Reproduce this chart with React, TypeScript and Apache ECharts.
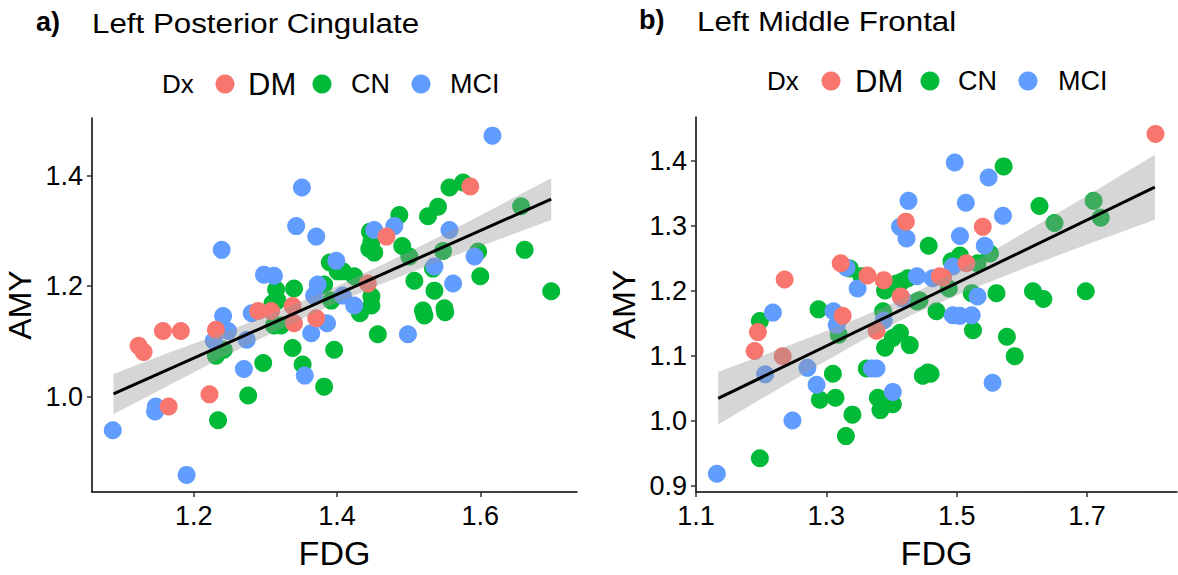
import React, { useEffect, useRef } from "react";
import * as echarts from "echarts";

const FONT = "'Liberation Sans', Arial, Helvetica, sans-serif";
const C_DM = "#F8766D";
const C_CN = "#00BA38";
const C_MCI = "#619CFF";

// ---------- Panel a: Left Posterior Cingulate ----------
const aDM = [
  [1.123, 1.092], [1.130, 1.081], [1.157, 1.119], [1.182, 1.119], [1.231, 1.121],
  [1.165, 0.982], [1.222, 1.004], [1.290, 1.155], [1.308, 1.155], [1.338, 1.164],
  [1.340, 1.133], [1.371, 1.142], [1.443, 1.205], [1.469, 1.290], [1.586, 1.381],
];
const aMCI = [
  [1.087, 0.939], [1.147, 0.982], [1.146, 0.973], [1.190, 0.858], [1.239, 1.266],
  [1.241, 1.146], [1.248, 1.119], [1.228, 1.101], [1.274, 1.103], [1.281, 1.151],
  [1.270, 1.050], [1.298, 1.221], [1.312, 1.219], [1.351, 1.379], [1.343, 1.309],
  [1.371, 1.290], [1.399, 1.246], [1.373, 1.203], [1.368, 1.183], [1.364, 1.115],
  [1.386, 1.133], [1.355, 1.038], [1.408, 1.183], [1.424, 1.165], [1.452, 1.302],
  [1.480, 1.309], [1.557, 1.302], [1.592, 1.254], [1.536, 1.236], [1.562, 1.205],
  [1.499, 1.113], [1.617, 1.473],
];
const aCN = [
  [1.315, 1.194], [1.340, 1.196], [1.390, 1.243], [1.401, 1.227], [1.382, 1.203],
  [1.317, 1.174], [1.557, 1.379], [1.576, 1.388], [1.657, 1.345], [1.487, 1.329],
  [1.541, 1.344], [1.527, 1.327], [1.446, 1.299], [1.448, 1.281], [1.445, 1.268],
  [1.452, 1.261], [1.491, 1.273], [1.501, 1.254], [1.548, 1.264], [1.597, 1.263],
  [1.662, 1.266], [1.534, 1.232], [1.600, 1.218], [1.508, 1.210], [1.536, 1.192],
  [1.699, 1.191], [1.408, 1.227], [1.424, 1.218], [1.448, 1.182], [1.448, 1.165],
  [1.378, 1.201], [1.392, 1.174], [1.550, 1.160], [1.520, 1.156], [1.522, 1.147],
  [1.551, 1.153], [1.432, 1.151], [1.457, 1.113], [1.396, 1.085], [1.382, 1.018],
  [1.242, 1.085], [1.231, 1.074], [1.312, 1.129], [1.322, 1.129], [1.310, 1.169],
  [1.338, 1.088], [1.297, 1.061], [1.352, 1.058], [1.276, 1.002], [1.234, 0.957],
];
const aFitX = [1.088, 1.699];
const aFitY = [1.005, 1.358];
const aBandX = [1.088, 1.16, 1.24, 1.32, 1.39, 1.46, 1.54, 1.62, 1.699];
const aBandLo = [0.968, 1.017, 1.071, 1.122, 1.164, 1.203, 1.244, 1.282, 1.320];
const aBandHi = [1.041, 1.077, 1.115, 1.156, 1.194, 1.237, 1.288, 1.342, 1.396];
const aXTicks = [1.2, 1.4, 1.6];
const aYTicks = [1.0, 1.2, 1.4];

// ---------- Panel b: Left Middle Frontal ----------
const bDM = [
  [1.422, 1.307], [1.236, 1.218], [1.322, 1.243], [1.363, 1.224], [1.388, 1.217],
  [1.474, 1.223], [1.414, 1.192], [1.325, 1.162], [1.805, 1.442], [1.540, 1.299],
  [1.515, 1.243], [1.479, 1.221], [1.195, 1.137], [1.190, 1.108], [1.233, 1.100],
  [1.377, 1.139],
];
const bMCI = [
  [1.426, 1.339], [1.413, 1.299], [1.423, 1.281], [1.331, 1.236], [1.439, 1.223],
  [1.463, 1.220], [1.348, 1.204], [1.416, 1.189], [1.218, 1.167], [1.311, 1.169],
  [1.497, 1.398], [1.549, 1.375], [1.514, 1.336], [1.571, 1.316], [1.505, 1.285],
  [1.543, 1.270], [1.494, 1.238], [1.532, 1.192], [1.494, 1.163], [1.505, 1.162],
  [1.523, 1.163], [1.555, 1.059], [1.316, 1.148], [1.206, 1.072], [1.271, 1.082],
  [1.285, 1.056], [1.248, 1.001], [1.132, 0.919], [1.388, 1.155], [1.370, 1.081],
  [1.377, 1.081], [1.402, 1.045],
];
const bCN = [
  [1.457, 1.270], [1.336, 1.235], [1.354, 1.223], [1.390, 1.201], [1.408, 1.212],
  [1.416, 1.215], [1.425, 1.220], [1.439, 1.184], [1.288, 1.172], [1.387, 1.169],
  [1.198, 1.154], [1.469, 1.169], [1.572, 1.392], [1.627, 1.331], [1.710, 1.339],
  [1.721, 1.313], [1.650, 1.305], [1.551, 1.258], [1.505, 1.255], [1.492, 1.246],
  [1.532, 1.243], [1.488, 1.204], [1.443, 1.186], [1.523, 1.197], [1.561, 1.197],
  [1.617, 1.200], [1.633, 1.188], [1.698, 1.200], [1.525, 1.140], [1.577, 1.130],
  [1.589, 1.100], [1.456, 1.075], [1.448, 1.070], [1.460, 1.073], [1.319, 1.133],
  [1.310, 1.073], [1.290, 1.033], [1.314, 1.036], [1.340, 1.010], [1.330, 0.977],
  [1.198, 0.943], [1.390, 1.113], [1.402, 1.128], [1.413, 1.136], [1.428, 1.117],
  [1.362, 1.081], [1.379, 1.036], [1.383, 1.017], [1.402, 1.026],
];
const bFitX = [1.134, 1.804];
const bFitY = [1.035, 1.360];
const bBandX = [1.134, 1.21, 1.29, 1.36, 1.43, 1.51, 1.60, 1.70, 1.804];
const bBandLo = [0.995, 1.040, 1.087, 1.127, 1.163, 1.198, 1.234, 1.272, 1.310];
const bBandHi = [1.076, 1.104, 1.135, 1.163, 1.195, 1.236, 1.288, 1.347, 1.410];
const bXTicks = [1.1, 1.3, 1.5, 1.7];
const bYTicks = [0.9, 1.0, 1.1, 1.2, 1.3, 1.4];

const fmt = (v: number) => Number(v).toFixed(1);

function xAxisDef(gridIndex: number, min: number, max: number, ticks: number[]) {
  return {
    type: "value",
    gridIndex,
    min,
    max,
    name: "FDG",
    nameLocation: "middle",
    nameGap: 44,
    nameTextStyle: { fontSize: 34, color: "#000", fontFamily: FONT },
    axisLine: { show: true, onZero: false, lineStyle: { color: "#000", width: 1.5 } },
    axisTick: { show: true, customValues: ticks, length: 5, lineStyle: { color: "#333", width: 1.5 } },
    axisLabel: { customValues: ticks, fontSize: 27, color: "#000", margin: 10, fontFamily: FONT, formatter: fmt },
    splitLine: { show: false },
  };
}

function yAxisDef(gridIndex: number, min: number, max: number, ticks: number[]) {
  return {
    type: "value",
    gridIndex,
    min,
    max,
    name: "AMY",
    nameLocation: "middle",
    nameRotate: 90,
    nameGap: 56,
    nameTextStyle: { fontSize: 32, color: "#000", fontFamily: FONT },
    axisLine: { show: true, onZero: false, lineStyle: { color: "#000", width: 1.5 } },
    axisTick: { show: true, customValues: ticks, length: 5, lineStyle: { color: "#333", width: 1.5 } },
    axisLabel: { customValues: ticks, fontSize: 27, color: "#000", margin: 9, fontFamily: FONT, formatter: fmt },
    splitLine: { show: false },
  };
}

function scatter(idx: number, name: string, data: number[][], color: string) {
  return {
    type: "scatter",
    name,
    xAxisIndex: idx,
    yAxisIndex: idx,
    data,
    symbol: "circle",
    symbolSize: 18,
    itemStyle: { color, opacity: 1 },
    z: 2,
    silent: true,
  };
}

function band(idx: number, xs: number[], lo: number[], hi: number[]) {
  return {
    type: "custom",
    xAxisIndex: idx,
    yAxisIndex: idx,
    data: xs.map((x, i) => [x, lo[i], hi[i]]),
    encode: { x: 0, y: [1, 2] },
    z: 3,
    silent: true,
    renderItem: (params: any, api: any) => {
      if (params.dataIndex !== 0) return { type: "group", children: [] };
      const pts: number[][] = [];
      for (let i = 0; i < xs.length; i++) pts.push(api.coord([xs[i], hi[i]]));
      for (let i = xs.length - 1; i >= 0; i--) pts.push(api.coord([xs[i], lo[i]]));
      return { type: "polygon", shape: { points: pts }, style: { fill: "rgba(153,153,153,0.4)" } };
    },
  };
}

function fitLine(idx: number, xs: number[], ys: number[]) {
  return {
    type: "line",
    xAxisIndex: idx,
    yAxisIndex: idx,
    data: xs.map((x, i) => [x, ys[i]]),
    symbol: "none",
    lineStyle: { color: "#000", width: 3 },
    z: 4,
    silent: true,
  };
}

function legendGraphics(dx: number, cy: number, pos: number[]) {
  // pos: [redCx, dmX, greenCx, cnX, blueCx, mciX]
  const t = (x: number, text: string, size: number) => ({
    type: "text",
    x,
    y: cy,
    style: { text, fontSize: size, fontFamily: FONT, fill: "#000", textVerticalAlign: "middle", verticalAlign: "middle" },
  });
  const c = (cx: number, color: string) => ({
    type: "circle",
    shape: { cx, cy, r: 9.5 },
    style: { fill: color },
  });
  return [
    t(dx, "Dx", 26),
    c(pos[0], C_DM),
    t(pos[1], "DM", 31),
    c(pos[2], C_CN),
    t(pos[3], "CN", 27),
    c(pos[4], C_MCI),
    t(pos[5], "MCI", 27),
  ];
}

function titleGraphics(labX: number, label: string, tX: number, title: string, cy: number) {
  return [
    {
      type: "text",
      x: labX,
      y: cy - 2,
      style: { text: label, fontSize: 27, fontFamily: FONT, fontWeight: "bold", fill: "#000", verticalAlign: "middle" },
    },
    {
      type: "text",
      x: tX,
      y: cy,
      scaleX: 1.16,
      style: { text: title, fontSize: 27, fontFamily: FONT, fill: "#000", verticalAlign: "middle" },
    },
  ];
}

export default function App() {
  const ref = useRef<HTMLDivElement>(null);
  useEffect(() => {
    if (!ref.current) return;
    const chart = echarts.init(ref.current, null, { renderer: "svg" });
    const option: any = {
      animation: false,
      backgroundColor: "#fff",
      textStyle: { fontFamily: FONT },
      grid: [
        { left: 92, top: 118, width: 485, height: 377, containLabel: false },
        { left: 696, top: 117, width: 481, height: 378, containLabel: false },
      ],
      xAxis: [xAxisDef(0, 1.058, 1.735, aXTicks), xAxisDef(1, 1.1, 1.838, bXTicks)],
      yAxis: [yAxisDef(0, 0.827, 1.505, aYTicks), yAxisDef(1, 0.891, 1.468, bYTicks)],
      series: [
        scatter(0, "CN", aCN, C_CN),
        scatter(0, "MCI", aMCI, C_MCI),
        scatter(0, "DM", aDM, C_DM),
        band(0, aBandX, aBandLo, aBandHi),
        fitLine(0, aFitX, aFitY),
        scatter(1, "CN", bCN, C_CN),
        scatter(1, "MCI", bMCI, C_MCI),
        scatter(1, "DM", bDM, C_DM),
        band(1, bBandX, bBandLo, bBandHi),
        fitLine(1, bFitX, bFitY),
      ],
      graphic: [
        ...titleGraphics(36, "a)", 92, "Left Posterior Cingulate", 24),
        ...titleGraphics(639, "b)", 697, "Left Middle Frontal", 22),
        ...legendGraphics(162, 84, [225, 248, 322, 351, 421, 450]),
        ...legendGraphics(767, 81, [831, 855, 930, 958, 1028, 1058]),
      ],
    };
    chart.setOption(option);
    return () => chart.dispose();
  }, []);
  return (
    <div
      ref={ref}
      style={{ position: "absolute", left: 0, top: 0, width: 1178, height: 575, background: "#fff" }}
    />
  );
}
